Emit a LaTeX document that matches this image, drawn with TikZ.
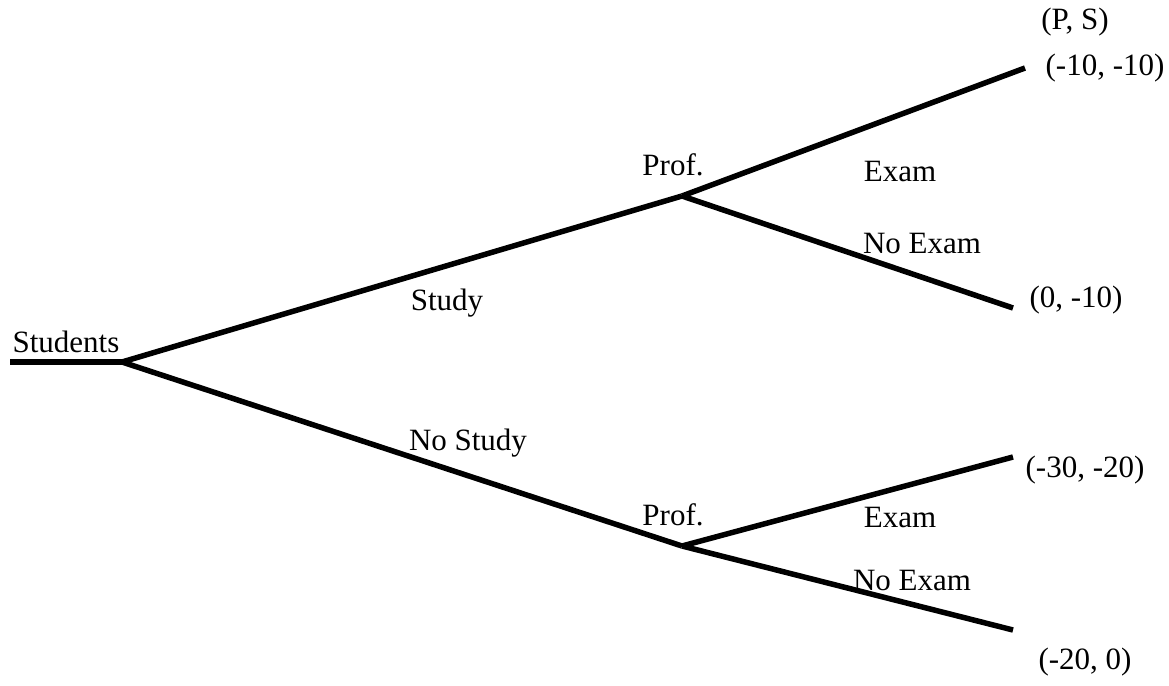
\documentclass[tikz,border=0pt]{standalone}
\usepackage{fontspec}
\setmainfont{Liberation Serif}
\begin{document}
\begin{tikzpicture}[x=1pt,y=-1pt,
  branch/.style={line width=5.5pt},
  lbl/.style={inner sep=0pt,font=\fontsize{31}{36}\selectfont}]
\useasboundingbox (0,0) rectangle (1169,685);
\coordinate (s0) at (10,362);
\coordinate (r) at (122,362);
\coordinate (p1) at (682,196);
\coordinate (p2) at (682,546);
\coordinate (e1) at (1025,68);
\coordinate (e2) at (1013,308);
\coordinate (e3) at (1013,457);
\coordinate (e4) at (1013,630);
\draw[branch] (s0) -- (r);
\draw[branch] (r) -- (p1);
\draw[branch] (r) -- (p2);
\draw[branch] (p1) -- (e1);
\draw[branch] (p1) -- (e2);
\draw[branch] (p2) -- (e3);
\draw[branch] (p2) -- (e4);
\node[lbl] (students) at (66,342) {Students};
\node[lbl] (study) at (447,303) {Study};
\node[lbl] (nostudy) at (468,443) {No Study};
\node[lbl] (prof1) at (673,165) {Prof.};
\node[lbl] (prof2) at (673,515) {Prof.};
\node[lbl] (exam1) at (900,172) {Exam};
\node[lbl] (noexam1) at (922,243) {No Exam};
\node[lbl] (exam2) at (900,517) {Exam};
\node[lbl] (noexam2) at (912,580) {No Exam};
\node[lbl] (ps) at (1075,22) {(P, S)};
\node[lbl] (o1) at (1105,68) {(-10, -10)};
\node[lbl] (o2) at (1076,300) {(0, -10)};
\node[lbl] (o3) at (1085,470) {(-30, -20)};
\node[lbl] (o4) at (1085,662) {(-20, 0)};
\end{tikzpicture}
\end{document}
